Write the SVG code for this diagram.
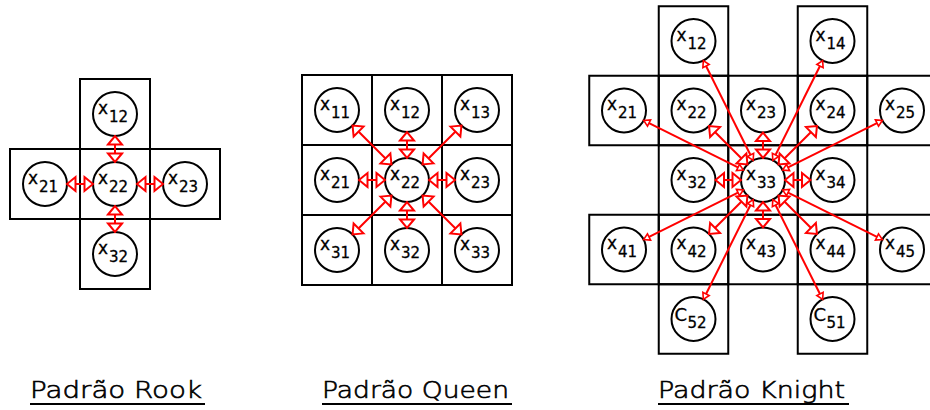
<svg xmlns="http://www.w3.org/2000/svg" width="930" height="410" viewBox="0 0 930 410">
  <style>
    .cell { fill: none; stroke: #000; stroke-width: 2; }
    .node circle { fill: none; stroke: #000; stroke-width: 2; }
    .lbl { font-family: "DejaVu Sans", "Liberation Sans", sans-serif; font-size: 17px; fill: #000; stroke: #000; stroke-width: 0.3; }
    .lbl tspan.i { font-size: 15px; }
    .lbl tspan.cap { font-size: 18px; }
    .title { font-family: "DejaVu Sans", "Liberation Sans", sans-serif; font-size: 23px; font-weight: 200; fill: #000; stroke: #000; stroke-width: 0.6; }
    .uline { stroke: #000; stroke-width: 2; }
    .arr { fill: none; stroke: #f00; stroke-width: 2; }
    .big { marker-start: url(#headBig); marker-end: url(#headBig); }
    .small { marker-start: url(#headSmall); marker-end: url(#headSmall); }
  </style>
  <defs>
    <!-- open triangular heads; the shaft stops at the base, the tip touches the circle -->
    <marker id="headBig" markerUnits="userSpaceOnUse" markerWidth="20" markerHeight="20" refX="0" refY="0" orient="auto-start-reverse" overflow="visible">
      <path d="M-0.5,-7 L8,0 L-0.5,7 Z" fill="none" stroke="#f00" stroke-width="2"/>
    </marker>
    <marker id="headSmall" markerUnits="userSpaceOnUse" markerWidth="12" markerHeight="12" refX="0" refY="0" orient="auto-start-reverse" overflow="visible">
      <path d="M0,-3.5 L6,0 L0,3.5 Z" fill="none" stroke="#f00" stroke-width="1.6"/>
    </marker>
  </defs>

  <!-- ===== Rook ===== -->
  <g id="rook-grid">
    <rect class="cell" x="80" y="79" width="70" height="70"/>
    <rect class="cell" x="10" y="149" width="70" height="70"/>
    <rect class="cell" x="80" y="149" width="70" height="70"/>
    <rect class="cell" x="150" y="149" width="70" height="70"/>
    <rect class="cell" x="80" y="219" width="70" height="70"/>
  </g>
  <g id="rook-x12" class="node" transform="translate(115,114)"><circle r="22"/><text class="lbl" x="-17" y="-0.5">x<tspan class="i" dx="1" dy="8">12</tspan></text></g>
  <g id="rook-x21" class="node" transform="translate(45,184)"><circle r="22"/><text class="lbl" x="-17" y="-0.5">x<tspan class="i" dx="1" dy="8">21</tspan></text></g>
  <g id="rook-x22" class="node" transform="translate(115,184)"><circle r="22"/><text class="lbl" x="-17" y="-0.5">x<tspan class="i" dx="1" dy="8">22</tspan></text></g>
  <g id="rook-x23" class="node" transform="translate(185,184)"><circle r="22"/><text class="lbl" x="-17" y="-0.5">x<tspan class="i" dx="1" dy="8">23</tspan></text></g>
  <g id="rook-x32" class="node" transform="translate(115,254)"><circle r="22"/><text class="lbl" x="-17" y="-0.5">x<tspan class="i" dx="1" dy="8">32</tspan></text></g>
  <g id="rook-links">
    <path class="arr big" d="M115,144 L115,154"/>
    <path class="arr big" d="M75,184 L85,184"/>
    <path class="arr big" d="M145,184 L155,184"/>
    <path class="arr big" d="M115,214 L115,224"/>
  </g>

  <!-- ===== Queen ===== -->
  <g id="queen-grid">
    <rect class="cell" x="302" y="75" width="70" height="70"/>
    <rect class="cell" x="372" y="75" width="70" height="70"/>
    <rect class="cell" x="442" y="75" width="70" height="70"/>
    <rect class="cell" x="302" y="145" width="70" height="70"/>
    <rect class="cell" x="372" y="145" width="70" height="70"/>
    <rect class="cell" x="442" y="145" width="70" height="70"/>
    <rect class="cell" x="302" y="215" width="70" height="70"/>
    <rect class="cell" x="372" y="215" width="70" height="70"/>
    <rect class="cell" x="442" y="215" width="70" height="70"/>
  </g>
  <g id="queen-x11" class="node" transform="translate(337,110)"><circle r="22"/><text class="lbl" x="-17" y="-0.5">x<tspan class="i" dx="1" dy="8">11</tspan></text></g>
  <g id="queen-x12" class="node" transform="translate(407,110)"><circle r="22"/><text class="lbl" x="-17" y="-0.5">x<tspan class="i" dx="1" dy="8">12</tspan></text></g>
  <g id="queen-x13" class="node" transform="translate(477,110)"><circle r="22"/><text class="lbl" x="-17" y="-0.5">x<tspan class="i" dx="1" dy="8">13</tspan></text></g>
  <g id="queen-x21" class="node" transform="translate(337,180)"><circle r="22"/><text class="lbl" x="-17" y="-0.5">x<tspan class="i" dx="1" dy="8">21</tspan></text></g>
  <g id="queen-x22" class="node" transform="translate(407,180)"><circle r="22"/><text class="lbl" x="-17" y="-0.5">x<tspan class="i" dx="1" dy="8">22</tspan></text></g>
  <g id="queen-x23" class="node" transform="translate(477,180)"><circle r="22"/><text class="lbl" x="-17" y="-0.5">x<tspan class="i" dx="1" dy="8">23</tspan></text></g>
  <g id="queen-x31" class="node" transform="translate(337,250)"><circle r="22"/><text class="lbl" x="-17" y="-0.5">x<tspan class="i" dx="1" dy="8">31</tspan></text></g>
  <g id="queen-x32" class="node" transform="translate(407,250)"><circle r="22"/><text class="lbl" x="-17" y="-0.5">x<tspan class="i" dx="1" dy="8">32</tspan></text></g>
  <g id="queen-x33" class="node" transform="translate(477,250)"><circle r="22"/><text class="lbl" x="-17" y="-0.5">x<tspan class="i" dx="1" dy="8">33</tspan></text></g>
  <g id="queen-links">
    <path class="arr big" d="M407,140 L407,150"/>
    <path class="arr big" d="M407,210 L407,220"/>
    <path class="arr big" d="M367,180 L377,180"/>
    <path class="arr big" d="M437,180 L447,180"/>
    <path class="arr big" d="M385.78,158.78 L358.22,131.22"/>
    <path class="arr big" d="M428.22,158.78 L455.78,131.22"/>
    <path class="arr big" d="M385.78,201.22 L358.22,228.78"/>
    <path class="arr big" d="M428.22,201.22 L455.78,228.78"/>
  </g>

  <!-- ===== Knight ===== -->
  <g id="knight-grid">
    <rect class="cell" x="658.75" y="6.25" width="69.5" height="69.5"/>
    <rect class="cell" x="797.75" y="6.25" width="69.5" height="69.5"/>
    <rect class="cell" x="589.25" y="75.75" width="69.5" height="69.5"/>
    <rect class="cell" x="658.75" y="75.75" width="69.5" height="69.5"/>
    <rect class="cell" x="728.25" y="75.75" width="69.5" height="69.5"/>
    <rect class="cell" x="797.75" y="75.75" width="69.5" height="69.5"/>
    <rect class="cell" x="867.25" y="75.75" width="69.5" height="69.5"/>
    <rect class="cell" x="658.75" y="145.25" width="69.5" height="69.5"/>
    <rect class="cell" x="728.25" y="145.25" width="69.5" height="69.5"/>
    <rect class="cell" x="797.75" y="145.25" width="69.5" height="69.5"/>
    <rect class="cell" x="589.25" y="214.75" width="69.5" height="69.5"/>
    <rect class="cell" x="658.75" y="214.75" width="69.5" height="69.5"/>
    <rect class="cell" x="728.25" y="214.75" width="69.5" height="69.5"/>
    <rect class="cell" x="797.75" y="214.75" width="69.5" height="69.5"/>
    <rect class="cell" x="867.25" y="214.75" width="69.5" height="69.5"/>
    <rect class="cell" x="658.75" y="284.25" width="69.5" height="69.5"/>
    <rect class="cell" x="797.75" y="284.25" width="69.5" height="69.5"/>
  </g>
  <g id="knight-x12" class="node" transform="translate(693.5,41)"><circle r="22"/><text class="lbl" x="-17" y="-0.5">x<tspan class="i" dx="1" dy="8">12</tspan></text></g>
  <g id="knight-x14" class="node" transform="translate(832.5,41)"><circle r="22"/><text class="lbl" x="-17" y="-0.5">x<tspan class="i" dx="1" dy="8">14</tspan></text></g>
  <g id="knight-x21" class="node" transform="translate(624,110.5)"><circle r="22"/><text class="lbl" x="-17" y="-0.5">x<tspan class="i" dx="1" dy="8">21</tspan></text></g>
  <g id="knight-x22" class="node" transform="translate(693.5,110.5)"><circle r="22"/><text class="lbl" x="-17" y="-0.5">x<tspan class="i" dx="1" dy="8">22</tspan></text></g>
  <g id="knight-x23" class="node" transform="translate(763,110.5)"><circle r="22"/><text class="lbl" x="-17" y="-0.5">x<tspan class="i" dx="1" dy="8">23</tspan></text></g>
  <g id="knight-x24" class="node" transform="translate(832.5,110.5)"><circle r="22"/><text class="lbl" x="-17" y="-0.5">x<tspan class="i" dx="1" dy="8">24</tspan></text></g>
  <g id="knight-x25" class="node" transform="translate(902,110.5)"><circle r="22"/><text class="lbl" x="-17" y="-0.5">x<tspan class="i" dx="1" dy="8">25</tspan></text></g>
  <g id="knight-x32" class="node" transform="translate(693.5,180)"><circle r="22"/><text class="lbl" x="-17" y="-0.5">x<tspan class="i" dx="1" dy="8">32</tspan></text></g>
  <g id="knight-x33" class="node" transform="translate(763,180)"><circle r="22"/><text class="lbl" x="-17" y="-0.5">x<tspan class="i" dx="1" dy="8">33</tspan></text></g>
  <g id="knight-x34" class="node" transform="translate(832.5,180)"><circle r="22"/><text class="lbl" x="-17" y="-0.5">x<tspan class="i" dx="1" dy="8">34</tspan></text></g>
  <g id="knight-x41" class="node" transform="translate(624,249.5)"><circle r="22"/><text class="lbl" x="-17" y="-0.5">x<tspan class="i" dx="1" dy="8">41</tspan></text></g>
  <g id="knight-x42" class="node" transform="translate(693.5,249.5)"><circle r="22"/><text class="lbl" x="-17" y="-0.5">x<tspan class="i" dx="1" dy="8">42</tspan></text></g>
  <g id="knight-x43" class="node" transform="translate(763,249.5)"><circle r="22"/><text class="lbl" x="-17" y="-0.5">x<tspan class="i" dx="1" dy="8">43</tspan></text></g>
  <g id="knight-x44" class="node" transform="translate(832.5,249.5)"><circle r="22"/><text class="lbl" x="-17" y="-0.5">x<tspan class="i" dx="1" dy="8">44</tspan></text></g>
  <g id="knight-x45" class="node" transform="translate(902,249.5)"><circle r="22"/><text class="lbl" x="-17" y="-0.5">x<tspan class="i" dx="1" dy="8">45</tspan></text></g>
  <g id="knight-c52" class="node" transform="translate(693.5,319)"><circle r="22"/><text class="lbl" x="-19" y="2"><tspan class="cap">C</tspan><tspan class="i" dx="0.5" dy="7">52</tspan></text></g>
  <g id="knight-c51" class="node" transform="translate(832.5,319)"><circle r="22"/><text class="lbl" x="-19" y="2"><tspan class="cap">C</tspan><tspan class="i" dx="0.5" dy="7">51</tspan></text></g>
  <g id="knight-links">
    <!-- neighbours of x33 -->
    <path class="arr big" d="M763,140.5 L763,150"/>
    <path class="arr big" d="M763,210 L763,219.5"/>
    <path class="arr big" d="M723.5,180 L733,180"/>
    <path class="arr big" d="M793,180 L802.5,180"/>
    <path class="arr big" d="M741.79,158.79 L714.71,131.71"/>
    <path class="arr big" d="M784.21,158.79 L811.29,131.71"/>
    <path class="arr big" d="M741.79,201.21 L714.71,228.29"/>
    <path class="arr big" d="M784.21,201.21 L811.29,228.29"/>
    <!-- knight jumps from x33 -->
    <path class="arr small" d="M750.48,154.96 L706.02,66.04"/>
    <path class="arr small" d="M775.52,154.96 L819.98,66.04"/>
    <path class="arr small" d="M750.48,205.04 L706.02,293.96"/>
    <path class="arr small" d="M775.52,205.04 L819.98,293.96"/>
    <path class="arr small" d="M737.96,167.48 L649.04,123.02"/>
    <path class="arr small" d="M788.04,167.48 L876.96,123.02"/>
    <path class="arr small" d="M737.96,192.52 L649.04,236.98"/>
    <path class="arr small" d="M788.04,192.52 L876.96,236.98"/>
  </g>

  <!-- ===== Titles ===== -->
  <g id="titles">
    <text class="title" x="30" y="398" textLength="172" lengthAdjust="spacingAndGlyphs">Padrão Rook</text>
    <line class="uline" x1="30" y1="404" x2="205" y2="404"/>
    <text class="title" x="322" y="398" textLength="187" lengthAdjust="spacingAndGlyphs">Padrão Queen</text>
    <line class="uline" x1="322" y1="404" x2="512" y2="404"/>
    <text class="title" x="658" y="398" textLength="187" lengthAdjust="spacingAndGlyphs">Padrão Knight</text>
    <line class="uline" x1="658" y1="404" x2="849" y2="404"/>
  </g>
</svg>
